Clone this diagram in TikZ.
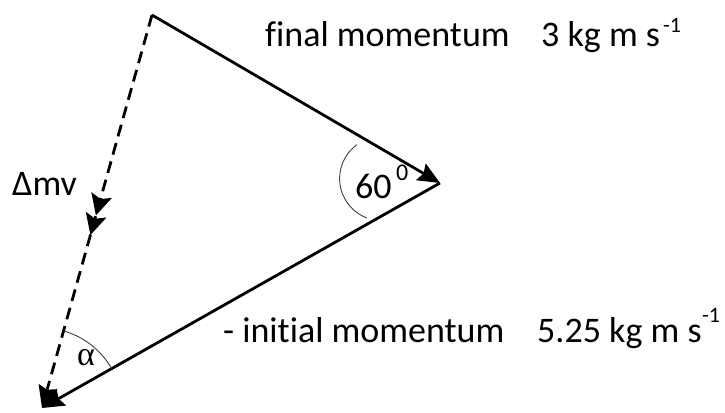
\documentclass[tikz,border=0pt]{standalone}
\usepackage{fontspec}
\setmainfont[Ligatures=NoCommon]{Carlito}
\newfontfamily\greekserif{Liberation Serif}
\usetikzlibrary{arrows.meta,decorations.markings}
\begin{document}
\begin{tikzpicture}[x=1pt,y=-1pt,
  lab/.style={inner sep=0pt,anchor=base west,font=\fontsize{36}{40}\selectfont},
  suplab/.style={inner sep=0pt,anchor=base west,font=\fontsize{22}{24}\selectfont},
  vec/.style={line width=2.8pt,-{Stealth[length=22pt,width=19pt,inset=3pt]}},
  dvec/.style={line width=2.8pt,dash pattern=on 12pt off 7pt,-{Stealth[length=22pt,width=19pt,inset=3pt]}},
  midarrows/.style={postaction={decorate,decoration={markings,
     mark=at position 0.51 with {\arrow{Stealth[length=21pt,width=21pt,inset=4pt]}},
     mark=at position 0.56 with {\arrow{Stealth[length=21pt,width=21pt,inset=4pt]}}}}},
  thinarc/.style={line width=0.9pt,draw=black!75}]
\useasboundingbox (0,0) rectangle (725,412);
\coordinate (T) at (152,15);
\coordinate (R) at (440,183);
\coordinate (B) at (42,408);
\draw[vec] (T) -- (R);
\draw[vec] (R) -- (B);
\draw[dvec,midarrows] (T) -- (B);
% angle arcs
\draw[thinarc] (367,218) arc[start angle=110.4,end angle=234,radius=42];
\draw[thinarc] (B) ++(-74.4:80) arc[start angle=-74.4,end angle=-29.5,radius=80];
% labels
\node[lab] (fm) at (265,47) {final momentum};
\node[lab] (fv) at (541,47) {3 kg m s};
\node[suplab] (fs) at (663,33) {-1};
\node[lab] (im) at (223,342) {- initial momentum};
\node[lab] (iv) at (537,342) {5.25 kg m s};
\node[suplab] (is) at (702,322) {-1};
\node[lab] (dm) at (12,195) {Δmv};
\node[lab] (sixty) at (355,198) {60};
\node[inner sep=0pt,anchor=base west,font=\fontsize{24}{28}\selectfont] (deg) at (396,180) {0};
\node[inner sep=0pt,font=\greekserif\fontsize{34}{36}\selectfont] (al) at (86,358) {α};
\end{tikzpicture}
\end{document}
